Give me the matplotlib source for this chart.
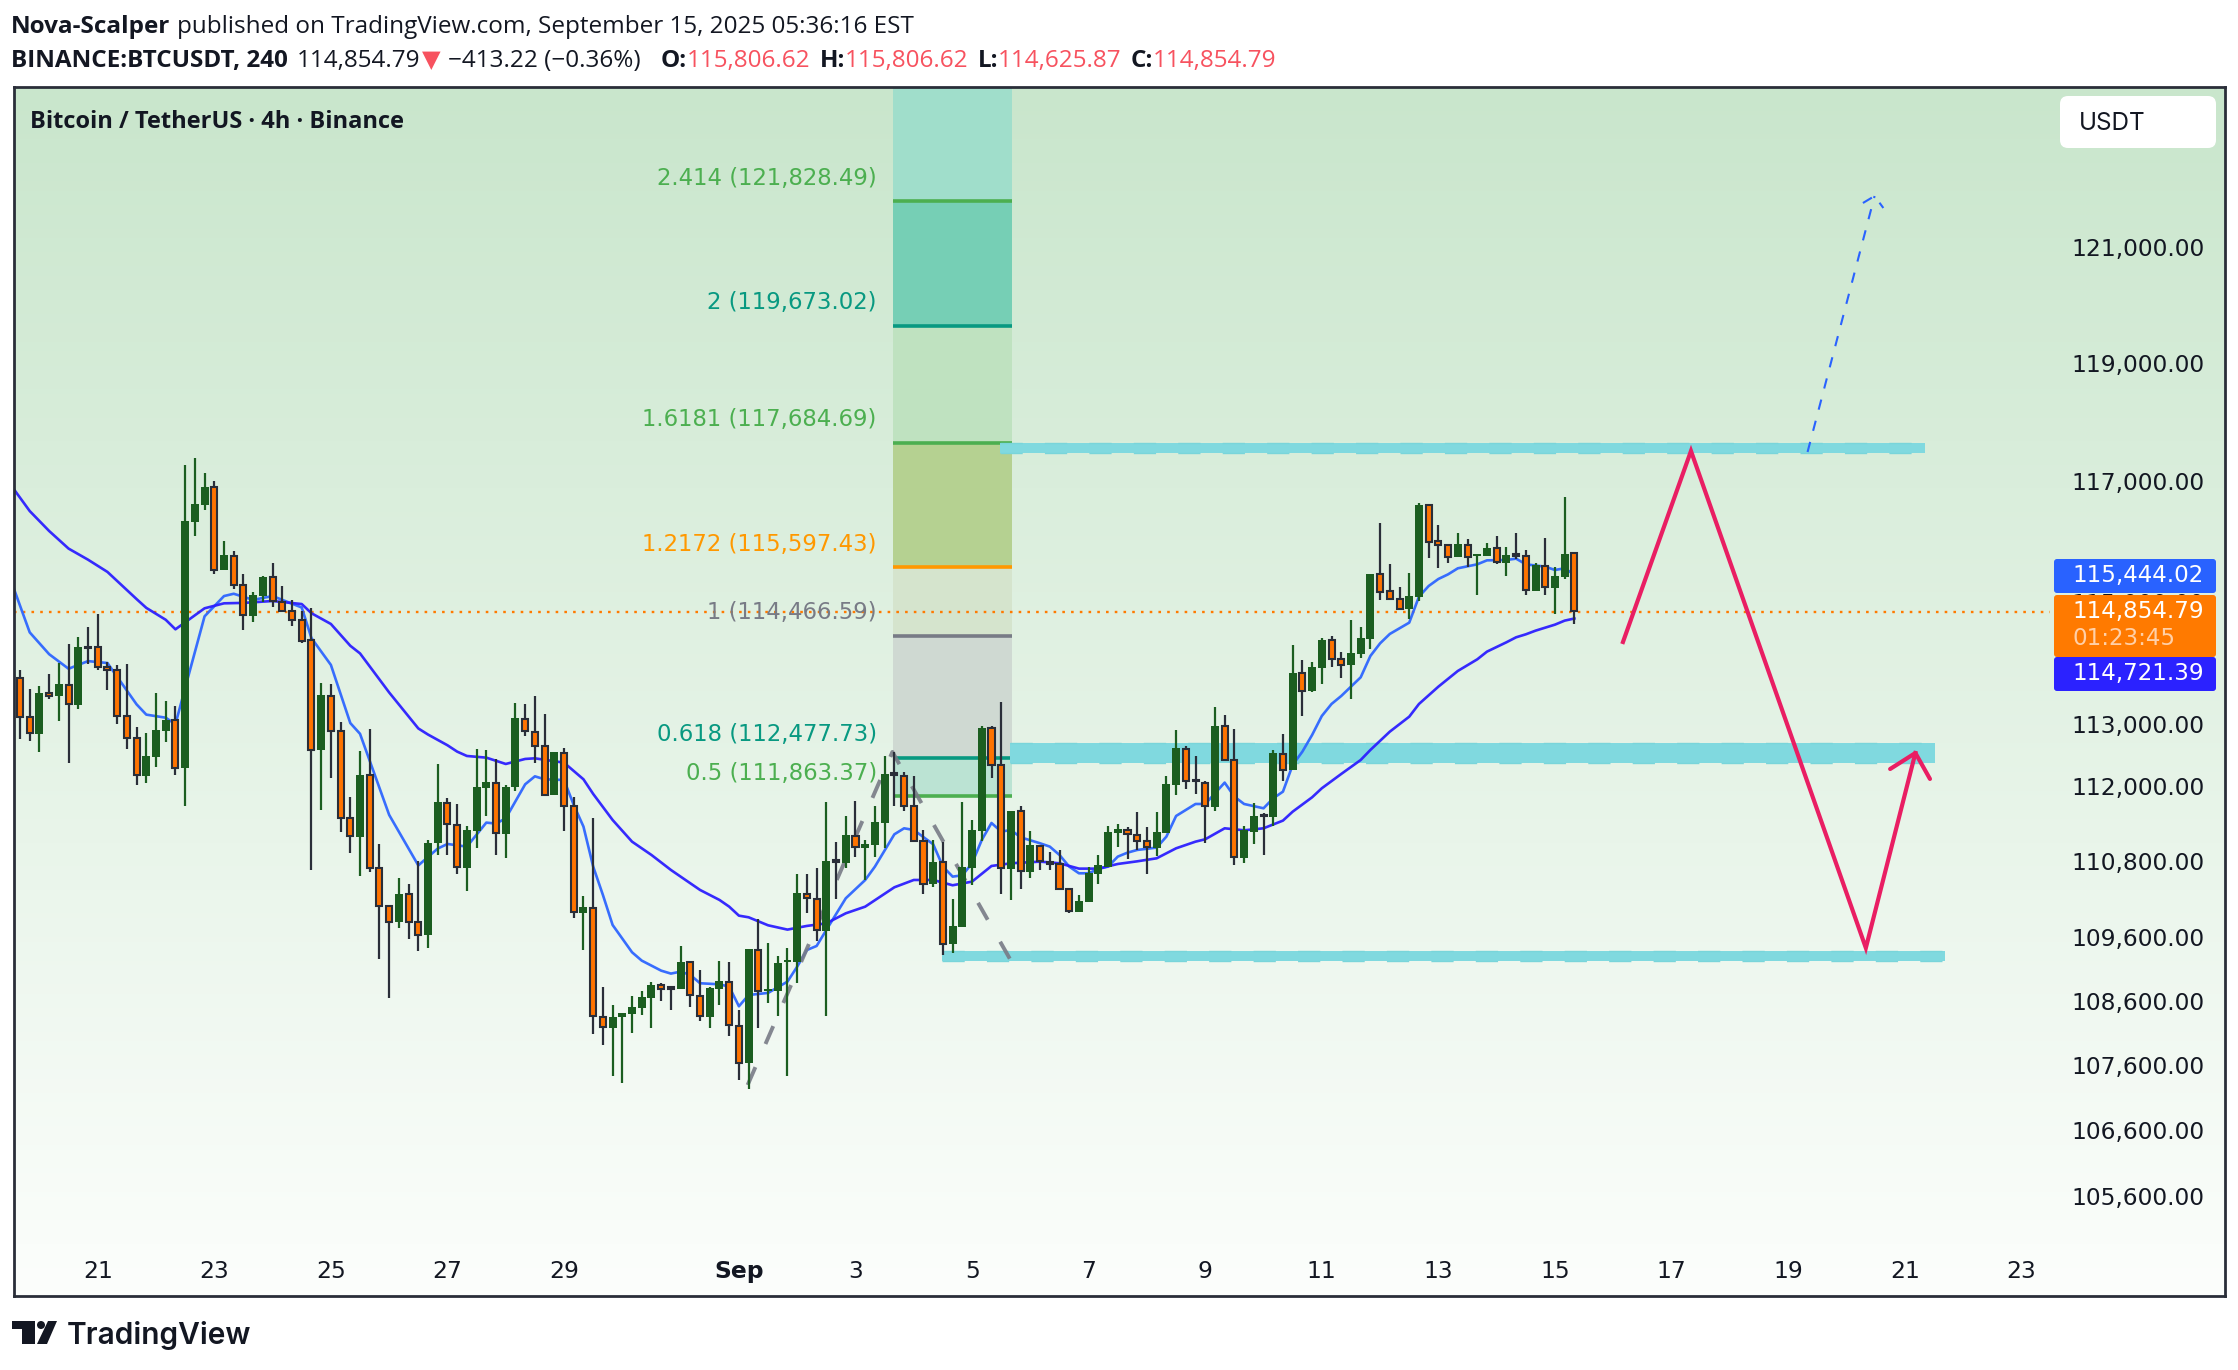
"""BTCUSDT 4h chart with fib levels and projected path."""

import matplotlib
matplotlib.use("Agg")
import matplotlib.pyplot as plt
import numpy as np
from matplotlib.colors import LinearSegmentedColormap
from matplotlib.patches import FancyBboxPatch, Polygon, Circle
from matplotlib.ticker import NullLocator
from matplotlib.transforms import offset_copy

# candle prices, in tens of USDT
opens = [11375,11311,11283,11350,11346,11364,11330,11426,11425,11392,11387,11312,11277,11216,11246,11288,11306,11228,11632,11660,11690,11552,11576,11528,11477,11509,11540,11500,11485,11469,11436,11257,11346,11288,11148,11118,11217,11068,11008,10983,11027,10984,
         10963,11108,11173,11138,11069,11128,11197,11205,11123,11198,11308,11287,11265,11186,11253,11167,10998,11006,10835,10818,10834,10839,10849,10865,10884,10881,10878,10920,10868,10835,10879,10890,10821,10763,10940,10875,10875,10921,10921,11028,11020,10970,
         11082,11077,11120,11101,11105,11141,11220,11216,11167,11111,11043,11078,10948,10976,11069,11128,11293,11233,11067,11159,11063,11104,11079,11075,11035,10999,11015,11059,11070,11125,11130,11122,11111,11101,11125,11201,11260,11209,11204,11166,11296,11241,
         11085,11126,11153,11150,11252,11226,11383,11353,11391,11436,11405,11396,11414,11438,11545,11517,11505,11488,11508,11660,11600,11593,11574,11594,11575,11575,11588,11564,11578,11576,11517,11559,11522,11541,11581]
highs = [11388,11357,11362,11381,11399,11430,11441,11458,11479,11401,11396,11397,11295,11285,11350,11337,11329,11727,11739,11714,11701,11600,11584,11546,11516,11542,11564,11526,11503,11484,11490,11367,11365,11303,11182,11256,11291,11107,11008,11053,11043,11080,
         11113,11235,11180,11171,11135,11259,11258,11243,11201,11334,11332,11345,11316,11255,11261,11182,11024,11149,10882,10853,10841,10867,10875,10890,10888,10881,10946,10921,10908,10881,10922,10921,10846,10941,10988,10950,10930,10942,11059,11059,11069,11174,
         11110,11152,11176,11113,11168,11248,11255,11222,11216,11129,11113,11110,11020,11174,11145,11297,11297,11336,11160,11168,11128,11105,11094,11097,11037,11026,11070,11090,11136,11139,11134,11158,11134,11158,11216,11290,11264,11248,11208,11327,11314,11292,
         11136,11173,11157,11258,11284,11429,11404,11401,11440,11443,11417,11470,11458,11546,11630,11562,11524,11547,11664,11660,11627,11594,11614,11604,11579,11597,11609,11590,11614,11585,11564,11605,11557,11674,11581]
lows = [11275,11272,11255,11341,11304,11236,11324,11398,11388,11355,11299,11259,11201,11205,11231,11270,11217,11167,11609,11652,11545,11552,11520,11454,11467,11499,11491,11482,11459,11432,11066,11162,11213,11126,11092,11056,11063,10926,10865,10974,10956,10938,
        10943,11090,11090,11060,11033,11100,11152,11090,11084,11192,11281,11237,11186,11186,11128,10989,10940,10809,10792,10744,10733,10810,10838,10817,10860,10845,10878,10851,10829,10817,10854,10806,10738,10724,10817,10856,10837,10744,10887,10998,10954,10837,
        11019,11069,11087,11050,11087,11100,11167,11160,11111,11027,11039,10931,10935,10975,11042,11112,11212,11027,11018,11036,11053,11066,11066,11036,10997,10999,11015,11043,11070,11102,11083,11097,11059,11088,11125,11185,11195,11187,11109,11160,11241,11074,
        11077,11107,11090,11135,11208,11226,11313,11351,11365,11393,11375,11340,11407,11422,11503,11505,11486,11471,11501,11572,11556,11564,11574,11557,11511,11575,11562,11542,11571,11511,11517,11511,11480,11537,11463]
closes = [11311,11285,11350,11346,11365,11332,11425,11424,11392,11387,11312,11277,11217,11248,11290,11307,11228,11634,11662,11691,11553,11577,11528,11478,11511,11541,11501,11485,11469,11435,11257,11347,11288,11148,11119,11217,11069,11008,10984,11027,10984,10963,
          11109,11174,11139,11070,11129,11198,11206,11125,11198,11310,11288,11265,11186,11255,11168,10999,11007,10836,10819,10835,10841,10850,10866,10885,10879,10879,10921,10869,10836,10880,10891,10822,10763,10941,10875,10878,10919,10923,11029,11021,10971,11080,
          11079,11121,11102,11107,11142,11219,11218,11168,11111,11043,11078,10948,10977,11070,11129,11293,11233,11068,11160,11064,11105,11080,11075,11036,11001,11017,11061,11074,11126,11131,11123,11111,11102,11126,11203,11261,11207,11207,11167,11297,11241,11086,
          11129,11152,11151,11253,11226,11383,11354,11393,11437,11405,11396,11416,11440,11546,11516,11505,11488,11509,11660,11599,11593,11574,11595,11573,11579,11589,11565,11577,11576,11519,11560,11524,11542,11579,11485]

fast_idx = [-0.6,1,3,5,7,9,12,13,15,16,17,19,21,22,24,26,29,30,32,34,35,38,41,43,44,46,48,49,50,52,53,54,56,57,58,59,60,61,63,64,66,
            67,68,69,70,72,73,74,75,77,79,80,81,82,83,85,87,88,90,91,92,94,95,96,97,98,99,100,101,102,103,105,106,107,108,109,110,111,112,113,114,115,117,
            118,119,121,122,124,125,126,128,129,130,131,132,133,134,135,136,138,139,140,141,143,144,145,146,147,148,150,151,153,154,155,157,158,159,160]
fast_ma = [115199,114493,114135,113897,114022,113991,113317,113150,113100,112994,113585,114757,115091,115129,115028,115091,114902,114399,113960,113013,112839,111534,110729,110997,111070,111028,111411,111395,111480,112025,112153,112105,112094,111693,111347,110710,110261,109787,109358,109227,109070,
           109024,109055,109003,108873,108857,108820,108514,108690,108722,108899,109133,109394,109457,109709,110208,110498,110710,111224,111320,111293,111065,110710,110551,110572,110763,111134,111405,111267,111293,111176,111081,111028,110895,110710,110604,110604,110673,110710,110869,110932,110975,111012,
           111187,111517,111709,111709,112052,111827,111709,111640,111800,111907,112336,112551,112820,113128,113323,113453,113757,114106,114313,114467,114653,115081,115257,115373,115450,115550,115616,115682,115688,115710,115616,115577,115522,115550,115444]
slow_idx = [-0.6,1,3,5,7,9,12,13,15,16,19,21,23,26,29,30,32,34,35,38,41,42,44,45,46,48,50,52,53,56,58,59,61,63,65,67,68,70,72,73,74,75,77,79,81,83,85,87,
            90,92,94,96,98,100,102,105,107,109,111,113,115,117,119,121,122,124,126,128,130,131,133,134,136,138,139,141,143,144,146,148,150,151,153,154,155,156,158,159,160]
slow_ma = [116861,116503,116170,115877,115693,115490,115041,114896,114700,114543,114889,114971,114978,115009,114959,114808,114631,114273,114148,113510,112926,112827,112654,112551,112481,112454,112352,112433,112443,112373,112105,111870,111453,111107,110895,110657,110551,110340,110182,110076,109934,109908,109782,109714,109772,109813,109971,110076,
           110382,110498,110498,110414,110472,110720,110763,110789,110763,110678,110678,110752,110794,110842,111001,111107,111145,111320,111288,111320,111443,111586,111816,111961,112191,112416,112578,112874,113117,113323,113605,113861,114051,114177,114330,114412,114461,114521,114620,114686,114721]

fib_levels = [2.414, 2, 1.6181, 1.2172, 1, 0.618, 0.5]
fib_prices = [121828.49, 119673.02, 117684.69, 115597.43, 114466.59, 112477.73, 111863.37]
fib_colors = ["#4caf50", "#089981", "#4caf50", "#ff9800", "#787b86", "#089981", "#4caf50"]
fib_bands = ["#a0decb", "#76cfb5", "#bfe2c0", "#b5d191", "#d5e4cd", "#cfd9d2", "#bbe3d3"]
fib_x = [89.9, 102.1]
fib_top = 123900

zone_prices = [(117477, 117646), (112368, 112691), (109222, 109379)]
zone_x = [(100.9, 196.1), (101.9, 197.1), (94.9, 198.1)]

path_x = [165.0, 172.0, 190.0, 195.1]
path_y = [114335, 117511, 109426, 112529]
path_head_x = [192.5, 195.1, 196.6]
path_head_y = [112271, 112529, 112111]
up_x = [184.0, 190.9]
up_y = [117494, 121888]
up_head_x = [189.7, 190.9, 191.8]
up_head_y = [121766, 121888, 121679]
swing_x = [74.9, 89.8, 101.9]
swing_y = [107296, 112546, 109253]

y_ticks = [121000, 119000, 117000, 115000, 113000, 112000, 110800, 109600, 108600, 107600, 106600, 105600]
x_tick_pos = [8, 20, 32, 44, 56, 74, 86, 98, 110, 122, 134, 146, 158, 170, 182, 194, 206]
x_tick_labels = ["21", "23", "25", "27", "29", "Sep", "3", "5", "7", "9", "11", "13", "15", "17", "19", "21", "23"]

last_close = 114854.79

DARK = "#131722"
FRAME = "#2a2e39"
FONT = "Inter"
NUM_FONT = "DejaVu Sans"
HEAD_FONT = ["Open Sans", "DejaVu Sans"]
W, H = 2238, 1370
L, T, R, B = 14, 87, 2225, 1296

plt.rcParams["font.family"] = FONT
fig = plt.figure(figsize=(W / 100, H / 100), dpi=100, facecolor="white")
frame = [L / W, 1 - B / H, (R - L) / W, (B - T) / H]

# background gradient lives on its own axes
bg = fig.add_axes(frame, zorder=0)
bg.axis("off")
cmap = LinearSegmentedColormap.from_list("bg", ["#c9e6cc", "#fcfefc"])
bg.imshow(np.linspace(0, 1, 256)[:, None], cmap=cmap, aspect="auto")

ax = fig.add_axes(frame, zorder=1)
ax.patch.set_alpha(0)
ax.set_yscale("log")
ax.set_xlim((L - 20) / 9.715, (R - 20) / 9.715)
ax.set_ylim(104097, 123809)

# price lines sit a touch under the tick label centres
nudged = offset_copy(ax.transData, fig=fig, y=-2, units="dots")

# fib bands, top one runs to the frame
edges = [fib_top] + fib_prices
for k, color in enumerate(fib_bands):
    ax.fill_between(fib_x, edges[k + 1], edges[k], color=color, linewidth=0, zorder=1, transform=nudged)
for price, color in zip(fib_prices, fib_colors):
    ax.plot(fib_x, [price, price], color=color, linewidth=2.6, zorder=1.2, solid_capstyle="butt", transform=nudged)
for level, price, color in zip(fib_levels, fib_prices, fib_colors):
    ax.annotate(
        f"{level:g} ({price:,.2f})",
        xy=(88.2, price),
        xytext=(0, 15.3),
        textcoords="offset points",
        ha="right",
        va="center",
        color=color,
        family=NUM_FONT,
        fontsize=16.4,
        zorder=2.6,
    )

for (low, high), (x0, x1) in zip(zone_prices, zone_x):
    ax.fill_between([x0, x1], low, high, color="#80d9df", linewidth=0, zorder=1.5)
    for edge in (low, high):
        ax.plot([x0, x1], [edge, edge], color="#79d5da", linewidth=1.0, linestyle=(0, (16, 16)), zorder=1.6)

ax.plot([ax.get_xlim()[0], (2050 - 20) / 9.715], [last_close, last_close], color="#ff7a00", linewidth=1.7,
        linestyle=(0, (1.1, 2.6)), zorder=1.8, transform=nudged)
ax.plot(fast_idx, fast_ma, color="#2e66ff", linewidth=1.9, zorder=2, alpha=0.95)
ax.plot(slow_idx, slow_ma, color="#2c1fff", linewidth=1.9, zorder=2.05, alpha=0.95)
ax.plot(swing_x, swing_y, color="#787b86", linewidth=2.8, linestyle=(0, (5, 6.5)), alpha=0.9, zorder=2.2)

opens_p, highs_p, lows_p, closes_p = (np.array(v, dtype=float) * 10 for v in (opens, highs, lows, closes))
index = np.arange(len(opens_p))
up = closes_p >= opens_p
top = np.maximum(opens_p, closes_p)
bottom = np.minimum(opens_p, closes_p)
ax.vlines(index[up], lows_p[up], highs_p[up], color="#1b5e20", linewidth=1.6, zorder=3)
ax.vlines(index[~up], lows_p[~up], highs_p[~up], color=FRAME, linewidth=1.6, zorder=3)
ax.bar(index[up], top[up] - bottom[up], bottom=bottom[up], width=0.82, color="#1b5e20", linewidth=0, zorder=3.1)
ax.bar(index[~up], top[~up] - bottom[~up], bottom=bottom[~up], width=0.62, color="#ff7300", edgecolor=FRAME, linewidth=1.5, zorder=3.1)

ax.plot(path_x, path_y, color="#e91e63", linewidth=3.0, zorder=4, solid_joinstyle="miter")
ax.plot(path_head_x, path_head_y, color="#e91e63", linewidth=3.0, zorder=4, solid_capstyle="round")
for xs, ys in ((up_x, up_y), (up_head_x, up_head_y)):
    ax.plot(xs, ys, color="#2962ff", linewidth=1.5, linestyle=(0, (5, 5.5)), zorder=4)

ax.yaxis.tick_right()
ax.yaxis.set_minor_locator(NullLocator())
ax.set_yticks(y_ticks, [f"{v:,.2f}" for v in y_ticks], family=NUM_FONT)
ax.set_xticks(x_tick_pos, x_tick_labels, family=NUM_FONT)
ax.tick_params(axis="y", length=0, pad=-110.5, labelsize=16.8, labelcolor=DARK)
ax.tick_params(axis="x", length=0, pad=-26, labelsize=16.8, labelcolor=DARK)
ax.get_xticklabels()[x_tick_labels.index("Sep")].set_fontweight("bold")
for spine in ax.spines.values():
    spine.set_color(FRAME)
    spine.set_linewidth(2.0)

# everything around the plot is placed in pixels on a full figure overlay
over = fig.add_axes([0, 0, 1, 1], zorder=5)
over.set_xlim(0, W)
over.set_ylim(H, 0)
over.axis("off")


def draw_runs(x, y, runs):
    """Draw text pieces one after another, returning the end position."""
    renderer = fig.canvas.get_renderer()
    for text, color, weight, gap in runs:
        piece = over.text(x, y, text, color=color, fontweight=weight, family=HEAD_FONT, fontsize=17.5, va="center", ha="left")
        x = piece.get_window_extent(renderer).x1 + gap
    return x


RED = "#f7525f"
draw_runs(11, 27, [("Nova-Scalper", DARK, "bold", 7), ("published on TradingView.com, September 15, 2025 05:36:16 EST", DARK, "normal", 0)])
draw_runs(11, 61, [
    ("BINANCE:BTCUSDT, 240", DARK, "bold", 9),
    ("114,854.79", DARK, "normal", 2),
    ("▼", RED, "normal", 7),
    ("−413.22 (−0.36%)", DARK, "normal", 20),
    ("O:", DARK, "bold", 0), ("115,806.62", RED, "normal", 9),
    ("H:", DARK, "bold", 0), ("115,806.62", RED, "normal", 9),
    ("L:", DARK, "bold", 0), ("114,625.87", RED, "normal", 9),
    ("C:", DARK, "bold", 0), ("114,854.79", RED, "normal", 0),
])
over.text(30, 122, "Bitcoin / TetherUS · 4h · Binance", color=DARK, fontweight="bold", family=HEAD_FONT, fontsize=17, va="center")

over.add_patch(FancyBboxPatch((2060, 96), 156, 52, boxstyle="round,pad=0,rounding_size=8", facecolor="white", edgecolor="none"))
over.text(2079, 123, "USDT", color=DARK, fontsize=17.5, va="center")

boxes = [(559, 34, "#2962ff"), (595, 62, "#ff7a00"), (657, 34, "#2b22ff")]
for top_y, height, color in boxes:
    over.add_patch(FancyBboxPatch((2054, top_y), 162, height, boxstyle="round,pad=0,rounding_size=3", facecolor=color, edgecolor="none"))
over.text(2072, 575, "115,444.02", color="white", family=NUM_FONT, fontsize=16.6, va="center")
over.text(2072, 611, "114,854.79", color="white", family=NUM_FONT, fontsize=16.6, va="center")
over.text(2072, 638, "01:23:45", color="#ffd0a8", family=NUM_FONT, fontsize=16.6, va="center")
over.text(2072, 673, "114,721.39", color="white", family=NUM_FONT, fontsize=16.6, va="center")

# TradingView mark
logo = [
    [(12, 1321), (35, 1321), (35, 1344), (22, 1344), (22, 1329), (12, 1329)],
    [(48, 1321), (57, 1321), (47, 1344), (37, 1344)],
]
for points in logo:
    over.add_patch(Polygon(points, closed=True, facecolor=DARK, edgecolor="none"))
over.add_patch(Circle((41, 1325), 4, facecolor=DARK, edgecolor="none"))
over.text(67, 1335, "TradingView", color=DARK, fontweight="semibold", fontsize=21.5, va="center")

fig.savefig("out.png", dpi=100)
plt.close(fig)
